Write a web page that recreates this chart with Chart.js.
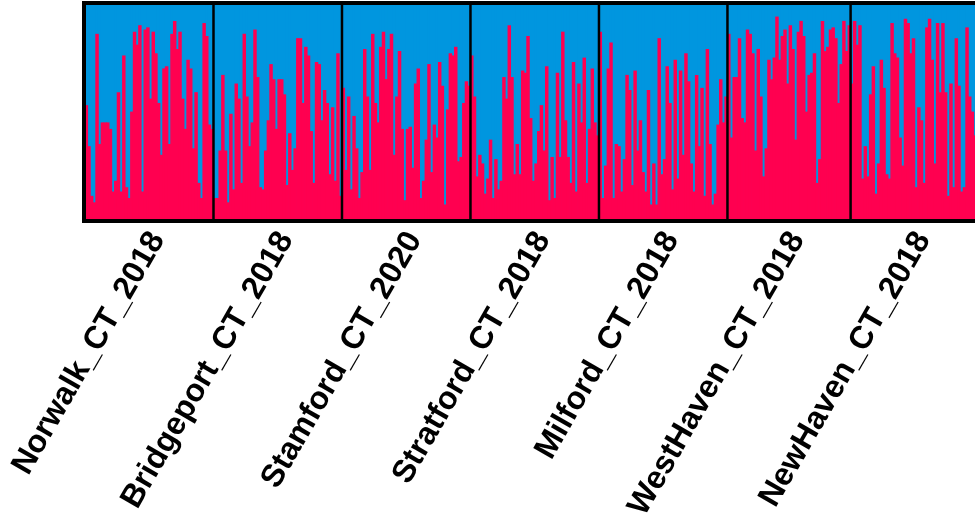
<!DOCTYPE html>
<html>
<head>
<meta charset="utf-8">
<script src="https://cdn.jsdelivr.net/npm/chart.js@4"></script>
<style>
html,body{margin:0;padding:0;background:#fff;overflow:hidden;}
#wrap{width:1016px;height:518px;position:relative;}
</style>
</head>
<body>
<div id="wrap"><canvas id="c"></canvas></div>
<script>
// Population names (x-axis labels)
const populations = ["Norwalk_CT_2018","Bridgeport_CT_2018","Stamford_CT_2020","Stratford_CT_2018","Milford_CT_2018","WestHaven_CT_2018","NewHaven_CT_2018"];

// Ancestry proportion of cluster 1 (red) for each individual, per population
const norwalk = [0.53,0.34,0.11,0.08,0.86,0.35,0.45,0.45,0.45,0.42,0.13,0.18,0.59,0.13,0.76,0.15,0.10,0.50,0.87,0.81,0.90,0.13,0.88,0.89,0.56,0.87,0.77,0.54,0.30,0.70,0.71,0.35,0.86,0.92,0.79,0.87,0.56,0.42,0.74,0.70,0.33,0.59,0.17,0.10,0.91,0.85,0.44,0.42];
const bridgeport = [0.10,0.10,0.32,0.67,0.32,0.08,0.49,0.14,0.63,0.56,0.17,0.86,0.57,0.34,0.45,0.88,0.66,0.15,0.14,0.32,0.46,0.72,0.65,0.42,0.65,0.65,0.58,0.16,0.40,0.23,0.33,0.84,0.84,0.54,0.80,0.76,0.41,0.17,0.73,0.72,0.46,0.60,0.54,0.21,0.52,0.18,0.77,0.11];
const stamford = [0.61,0.23,0.57,0.14,0.48,0.33,0.10,0.22,0.79,0.57,0.23,0.86,0.54,0.45,0.80,0.87,0.65,0.79,0.86,0.30,0.57,0.78,0.42,0.09,0.42,0.43,0.24,0.63,0.70,0.10,0.18,0.37,0.72,0.22,0.44,0.38,0.73,0.62,0.07,0.51,0.77,0.76,0.80,0.27,0.29,0.54,0.64,0.62];
const stratford = [0.76,0.57,0.20,0.30,0.26,0.12,0.19,0.37,0.10,0.28,0.14,0.18,0.66,0.56,0.90,0.66,0.21,0.35,0.21,0.69,0.68,0.85,0.47,0.18,0.26,0.41,0.53,0.32,0.71,0.09,0.29,0.10,0.68,0.29,0.87,0.46,0.29,0.17,0.73,0.13,0.63,0.45,0.75,0.17,0.42,0.70,0.45,0.39];
const milford = [0.87,0.10,0.25,0.70,0.82,0.10,0.35,0.34,0.13,0.28,0.67,0.60,0.16,0.69,0.32,0.46,0.22,0.13,0.60,0.07,0.26,0.07,0.84,0.21,0.28,0.71,0.54,0.14,0.74,0.19,0.69,0.30,0.77,0.64,0.26,0.13,0.67,0.34,0.61,0.11,0.79,0.35,0.07,0.12,0.44,0.65,0.45,0.57];
const westhaven = [0.86,0.38,0.66,0.66,0.84,0.47,0.45,0.88,0.86,0.77,0.32,0.79,0.57,0.20,0.33,0.74,0.65,0.75,0.94,0.74,0.85,0.88,0.63,0.90,0.79,0.37,0.87,0.92,0.85,0.50,0.67,0.68,0.77,0.17,0.28,0.92,0.78,0.80,0.88,0.89,0.84,0.54,0.72,0.92,0.78,0.90];
const newhaven = [0.63,0.92,0.81,0.90,0.19,0.34,0.20,0.58,0.71,0.12,0.26,0.74,0.61,0.21,0.19,0.91,0.77,0.75,0.38,0.25,0.93,0.91,0.77,0.84,0.15,0.52,0.46,0.17,0.89,0.93,0.74,0.26,0.91,0.59,0.91,0.59,0.11,0.63,0.15,0.84,0.62,0.13,0.15,0.89,0.57,0.50,0.39,0.27];

const groups = [norwalk, bridgeport, stamford, stratford, milford, westhaven, newhaven];

// Build library tables
const q1 = [].concat(...groups);
const q2 = q1.map(v => +(1 - v).toFixed(2));
const labels = q1.map((_, i) => i);
const boundaries = [];
const labelAt = {};
let start = 0;
groups.forEach((g, k) => {
  labelAt[start + Math.floor(g.length / 2)] = populations[k];
  start += g.length;
  boundaries.push(start);
});

const RED = '#FF0050';
const BLUE = '#0096DF';

const framePlugin = {
  id: 'frame',
  beforeDatasetsDraw(chart) {
    const {ctx, chartArea: a} = chart;
    ctx.save();
    ctx.fillStyle = BLUE;
    ctx.fillRect(a.left, a.top, a.right - a.left, a.bottom - a.top);
    ctx.restore();
  },
  afterDatasetsDraw(chart) {
    const {ctx, chartArea: a, scales: {x}} = chart;
    ctx.save();
    ctx.strokeStyle = '#000';
    ctx.lineWidth = 2.5;
    boundaries.slice(0, -1).forEach(b => {
      const px = (x.getPixelForValue(b - 1) + x.getPixelForValue(b)) / 2;
      ctx.beginPath();
      ctx.moveTo(px, a.top);
      ctx.lineTo(px, a.bottom);
      ctx.stroke();
    });
    ctx.lineWidth = 4;
    ctx.strokeRect(a.left - 1, a.top - 1, a.right - a.left + 2, a.bottom - a.top + 2);
    ctx.restore();
  }
};

new Chart(document.getElementById('c'), {
  type: 'bar',
  data: {
    labels: labels,
    datasets: [
      {label: 'K1', data: q1, backgroundColor: RED, borderWidth: 0, barPercentage: 1, categoryPercentage: 1, inflateAmount: 0.4},
      {label: 'K2', data: q2, backgroundColor: BLUE, borderWidth: 0, barPercentage: 1, categoryPercentage: 1, inflateAmount: 0.4}
    ]
  },
  options: {
    responsive: true,
    maintainAspectRatio: false,
    animation: false,
    layout: {padding: {left: 85, top: 4, right: 0, bottom: 0}},
    plugins: {legend: {display: false}, tooltip: {enabled: false}},
    scales: {
      x: {
        stacked: true,
        grid: {display: false, drawTicks: false},
        border: {display: false},
        ticks: {
          autoSkip: false,
          minRotation: 60,
          maxRotation: 60,
          padding: 5,
          labelOffset: 7,
          color: '#000',
          font: {family: 'Liberation Sans', weight: 'bold', size: 32},
          callback: (v, i) => labelAt[i] || ''
        },
        afterFit: (axis) => { axis.height = 298; }
      },
      y: {
        stacked: true,
        display: false,
        min: 0,
        max: 1
      }
    }
  },
  plugins: [framePlugin]
});
</script>
</body>
</html>
